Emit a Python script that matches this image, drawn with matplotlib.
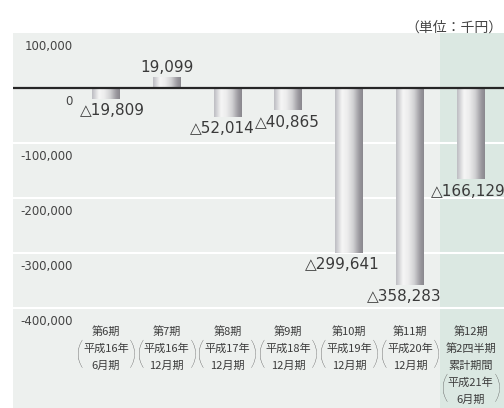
import numpy as np
import matplotlib.pyplot as plt
from matplotlib.colors import LinearSegmentedColormap
from matplotlib.transforms import blended_transform_factory

plt.rcParams['font.family'] = ['DejaVu Sans', 'Noto Sans CJK JP']

# 経常利益（単位：千円）
periods = ['第6期', '第7期', '第8期', '第9期', '第10期', '第11期', '第12期']
years = ['平成16年', '平成16年', '平成17年', '平成18年', '平成19年', '平成20年', '平成21年']
months = ['6月期', '12月期', '12月期', '12月期', '12月期', '12月期', '6月期']
profit = [-19809, 19099, -52014, -40865, -299641, -358283, -166129]
yticks = [100000, 0, -100000, -200000, -300000, -400000]
ytick_labels = ['100,000', '0', '-100,000', '-200,000', '-300,000', '-400,000']

label_dx = [5, 0, -4, -1, -5, -4, -2]   # ラベルの横ずれ (pt)

panel_c = '#edf0ee'
green_c = '#dbe8e2'
text_c = '#3a3a3a'
jp = 'Noto Sans CJK JP'

fig = plt.figure(figsize=(5.04, 4.08), dpi=100)
ax = fig.add_axes([0, 0, 1, 1])
ax.axis('off')

x = np.arange(len(profit))
left, right = -1.53, 6.7
ybot = -600000

# 背景
ax.fill_between([left, right], ybot, 100000, color=panel_c, lw=0, zorder=0)
ax.fill_between([5.5, right], ybot, 100000, color=green_c, lw=0, zorder=0)
ax.hlines(yticks[2:], left, right, color='white', lw=1.5, zorder=1)

# 円柱風のグラデーション棒
cmap = LinearSegmentedColormap.from_list('cyl', [
    (0.0, '#bdbdc2'), (0.25, '#f6f6f6'), (0.45, '#ececec'),
    (0.65, '#d2d2d4'), (0.88, '#9a989e'), (1.0, '#8a888e')])
grad = np.linspace(0, 1, 64).reshape(1, -1)
w = 0.23
for xi, v in zip(x, profit):
    ax.imshow(grad, cmap=cmap, extent=[xi - w, xi + w, min(v, 0), max(v, 0)],
              aspect='auto', interpolation='bicubic', zorder=3)

ax.hlines(0, left, right, color='#262626', lw=1.6, zorder=4)

# 数値ラベル
for xi, v, dx in zip(x, profit, label_dx):
    if v >= 0:
        ax.annotate(f'{v:,}', (xi, v), xytext=(dx, 2), textcoords='offset points',
                    ha='center', va='bottom', fontsize=11, color=text_c, zorder=5)
    else:
        ax.annotate(f'△{-v:,}', (xi, v), xytext=(dx, -3), textcoords='offset points',
                    ha='center', va='top', fontsize=11, color=text_c, zorder=5)

# 目盛ラベル（線の下側に表示）
for t, s in zip(yticks, ytick_labels):
    ax.annotate(s, (-0.543, t), xytext=(0, -5), textcoords='offset points',
                ha='right', va='top', fontsize=8.5, color='#444444', zorder=5)

# 期のラベル
tr = blended_transform_factory(ax.transData, ax.transAxes)
y0 = 1 - 331 / 408
dy = 17.2 / 408
for i, (p, yr, m) in enumerate(zip(periods, years, months)):
    if i < 6:
        lines = [p, yr, m]
    else:
        lines = [p, '第2四半期', '累計期間', yr, m]
    for k, s in enumerate(lines):
        ax.text(i, y0 - k * dy, s, transform=tr, ha='center', va='center',
                fontsize=8, color='#3c3c3c', family=jp)
    k0 = len(lines) - 2
    ym = y0 - (k0 + 0.5) * dy
    for sgn, br in [(-1, '('), (1, ')')]:
        ax.annotate(br, (i, ym), xycoords=tr, xytext=(sgn * 19, 1),
                    textcoords='offset points', ha='center', va='center',
                    fontsize=22, color='#4a4a4a', family='Lato', fontweight='light')

fig.text(0.998, 1 - 28 / 408, '（単位：千円）', ha='right', va='center',
         fontsize=10, color='#444444', family=jp)

ax.set_xlim(-1.743, 6.546)
ax.set_ylim(-581818, 160000)

fig.savefig('out.png', dpi=100)
